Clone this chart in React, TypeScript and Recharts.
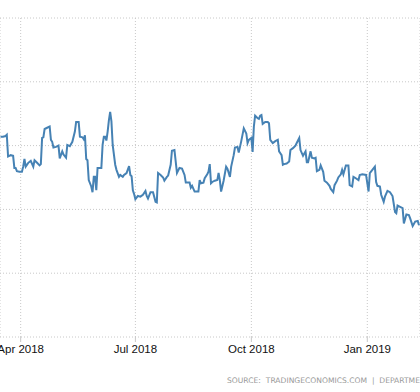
import { CartesianGrid, Line, LineChart, XAxis, YAxis } from "recharts";

// days counted from 1 Apr 2018
const BASE = Date.UTC(2018, 3, 1);
const DAY = 86400000;

const dayOffsets = [
  -16, -14, -12, -11, -10, -9, -8, -6, -5, -4, -3, -1, 1, 2, 3, 4, 6, 8, 10, 11,
  13, 15, 16, 17, 18, 19, 21, 23, 24, 25, 26, 28, 30, 31, 33, 34, 36, 37, 39, 41,
  43, 44, 46, 47, 49, 50, 51, 52, 53, 54, 56, 57, 58, 59, 60, 61, 63, 64, 65, 66,
  67, 68, 69, 70, 71, 72, 73, 75, 76, 78, 79, 81, 82, 84, 86, 87, 88, 89, 90, 91,
  93, 95, 97, 99, 100, 101, 103, 105, 107, 108, 109, 111, 113, 114, 116, 117, 119, 120, 122, 124,
  126, 128, 130, 131, 134, 135, 136, 138, 141, 142, 143, 145, 146, 148, 149, 150, 151, 152, 154, 156,
  157, 158, 159, 161, 163, 164, 166, 167, 169, 170, 172, 173, 175, 177, 178, 179, 180, 181, 183, 184,
  185, 186, 188, 189, 190, 191, 192, 194, 196, 197, 198, 200, 202, 204, 205, 206, 207, 208, 209, 211,
  213, 214, 216, 218, 219, 221, 222, 224, 226, 227, 228, 230, 231, 233, 234, 235, 237, 238, 240, 241,
  243, 245, 246, 248, 249, 251, 252, 254, 255, 256, 258, 260, 261, 263, 264, 265, 268, 269, 271, 274,
  276, 277, 279, 281, 282, 283, 285, 286, 288, 289, 291, 293, 295, 297, 298, 299, 301, 303, 304, 306,
  308, 309, 311, 313, 315, 316,
];

const values = [
  3.14, 3.14, 3.15, 3.17, 2.83, 2.84, 2.85, 2.84, 2.65, 2.65, 2.6, 2.59, 2.59, 2.67, 2.79, 2.67, 2.73, 2.76, 2.67, 2.77,
  2.73, 2.69, 2.71, 3.12, 3.13, 3.26, 3.28, 3.3, 3.09, 3.06, 2.97, 2.98, 3.0, 2.8, 2.91, 2.86, 2.81, 3.01, 2.99, 3.06,
  3.22, 3.37, 3.37, 3.14, 3.13, 3.1, 3.16, 2.79, 2.77, 2.46, 2.36, 2.27, 2.51, 2.51, 2.3, 2.65, 2.65, 2.65, 3.01, 3.14,
  3.14, 3.08, 3.22, 3.4, 3.53, 3.38, 3.01, 2.7, 2.62, 2.51, 2.54, 2.51, 2.54, 2.57, 2.68, 2.54, 2.52, 2.3, 2.24, 2.16,
  2.21, 2.2, 2.23, 2.29, 2.21, 2.17, 2.27, 2.27, 2.12, 2.11, 2.57, 2.54, 2.5, 2.45, 2.51, 2.53, 2.7, 2.92, 2.93, 2.57,
  2.65, 2.64, 2.54, 2.42, 2.42, 2.34, 2.37, 2.28, 2.28, 2.46, 2.41, 2.42, 2.49, 2.55, 2.59, 2.71, 2.41, 2.43, 2.45, 2.46,
  2.57, 2.46, 2.28, 2.45, 2.67, 2.64, 2.51, 2.67, 2.85, 2.97, 2.98, 2.89, 3.07, 3.27, 3.23, 3.19, 3.04, 3.09, 3.12, 2.9,
  3.3, 3.47, 3.43, 3.42, 3.47, 3.48, 3.34, 3.37, 3.37, 3.35, 3.09, 3.04, 3.07, 3.09, 2.91, 2.88, 2.85, 2.7, 2.71, 2.72,
  2.75, 2.93, 2.96, 3.0, 3.04, 3.12, 2.93, 2.84, 2.91, 2.74, 2.74, 2.91, 2.81, 2.8, 2.81, 2.6, 2.62, 2.69, 2.59, 2.45,
  2.42, 2.37, 2.32, 2.27, 2.38, 2.45, 2.5, 2.55, 2.62, 2.55, 2.69, 2.69, 2.38, 2.36, 2.51, 2.5, 2.46, 2.54, 2.55, 2.54,
  2.28, 2.57, 2.62, 2.67, 2.43, 2.37, 2.36, 2.23, 2.12, 2.2, 2.29, 2.27, 2.21, 1.96, 1.94, 2.06, 2.04, 2.02, 1.78, 1.92,
  1.91, 1.86, 1.74, 1.81, 1.82, 1.75,
];

const tickMonths: [number, number][] = [
  [2018, 3],
  [2018, 6],
  [2018, 9],
  [2019, 0],
];
const yTicks = [0, 1, 2, 3, 4, 5];
const MONTHS = ["Jan", "Feb", "Mar", "Apr", "May", "Jun", "Jul", "Aug", "Sep", "Oct", "Nov", "Dec"];

const data = dayOffsets.map((d, i) => ({ day: d, value: values[i] }));
const xTicks = tickMonths.map(([y, m]) => Math.round((Date.UTC(y, m, 1) - BASE) / DAY));

function formatTick(d: number) {
  const dt = new Date(BASE + d * DAY);
  return `${MONTHS[dt.getUTCMonth()]} ${dt.getUTCFullYear()}`;
}

export default function App() {
  return (
    <div
      style={{
        position: "absolute",
        left: 0,
        top: 0,
        width: 420,
        height: 392,
        overflow: "hidden",
        background: "#fff",
      }}
    >
      <LineChart width={420} height={392} data={data} margin={{ top: 18, right: 0, bottom: 25, left: 0 }}>
        <CartesianGrid stroke="#c8c8c8" strokeDasharray="1 2" />
        <XAxis
          dataKey="day"
          type="number"
          domain={[-16.4, 316.8]}
          allowDataOverflow
          ticks={xTicks}
          interval={0}
          tickFormatter={formatTick}
          axisLine={false}
          tickLine={{ stroke: "#c8c8c8" }}
          tickSize={5}
          tickMargin={3}
          height={30}
          tick={{ fontSize: 11.5, fill: "#111", fontFamily: "Liberation Sans" }}
        />
        <YAxis hide domain={[0, 5]} ticks={yTicks} />
        <Line
          type="linear"
          dataKey="value"
          stroke="#4682b4"
          strokeWidth={2}
          dot={false}
          isAnimationActive={false}
        />
      </LineChart>
      <div
        style={{
          position: "absolute",
          left: 227,
          top: 376,
          fontFamily: "DejaVu Sans",
          fontSize: 7.6,
          color: "#999",
          whiteSpace: "pre",
        }}
      >
        SOURCE:  TRADINGECONOMICS.COM  |  DEPARTMENT OF ENERGY
      </div>
    </div>
  );
}
